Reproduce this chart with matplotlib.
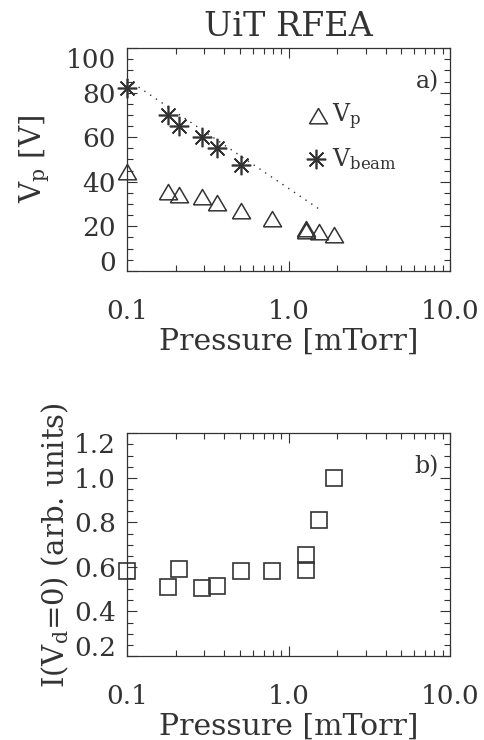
import matplotlib
matplotlib.use('Agg')
import matplotlib.pyplot as plt
from matplotlib.ticker import FixedLocator, MultipleLocator, NullFormatter

plt.rcParams['font.family'] = 'DejaVu Serif'
plt.rcParams['mathtext.fontset'] = 'dejavuserif'
plt.rcParams['axes.linewidth'] = 0.9

ink = '#333333'

# panel a) plasma potential and beam energy
p_vp = [0.1, 0.18, 0.21, 0.29, 0.36, 0.51, 0.79, 1.28, 1.28, 1.55, 1.92]
vp = [44, 35, 33.5, 32.5, 30, 26.5, 22.8, 18.3, 17.5, 16.8, 15.7]

p_beam = [0.1, 0.18, 0.21, 0.29, 0.36, 0.51]
vbeam = [82, 70, 65, 60, 55, 47.5]

fit_p = [0.1, 1.6]
fit_v = [86, 27]

# panel b) current at zero discriminator voltage
p_cur = [0.1, 0.18, 0.21, 0.29, 0.36, 0.51, 0.79, 1.28, 1.28, 1.55, 1.92]
cur = [0.58, 0.51, 0.59, 0.505, 0.515, 0.58, 0.58, 0.585, 0.655, 0.81, 1.0]

xticks = [0.1, 1.0, 10.0]
xticklabels = ['0.1', '1.0', '10.0']
yticks_a = [0, 20, 40, 60, 80, 100]
yticks_b = [0.2, 0.4, 0.6, 0.8, 1.0, 1.2]

tri = [(-1, -0.7), (1, -0.7), (0, 1.0), (-1, -0.7)]

fig = plt.figure(figsize=(4.85, 7.40), dpi=100)
ax1 = fig.add_axes([0.262, 0.634, 0.666, 0.301])
ax2 = fig.add_axes([0.262, 0.1135, 0.666, 0.301])

for ax in (ax1, ax2):
    ax.set_xscale('log')
    ax.set_xlim(0.1, 10.0)
    ax.xaxis.set_major_locator(FixedLocator(xticks))
    ax.set_xticklabels(xticklabels)
    ax.xaxis.set_minor_formatter(NullFormatter())
    ax.tick_params(which='both', direction='in', top=True, right=True,
                   colors=ink, labelcolor=ink, labelsize=19, width=0.8)
    ax.tick_params(which='major', length=7)
    ax.tick_params(which='minor', length=4)
    ax.tick_params(axis='x', pad=20)
    ax.tick_params(axis='y', pad=8)
    for s in ax.spines.values():
        s.set_color(ink)
    ax.set_xlabel('Pressure [mTorr]', fontsize=21.5, color=ink, labelpad=3)

ax1.set_ylim(0, 100)
ax1.set_yticks(yticks_a)
ax1.set_yticklabels([str(v) for v in yticks_a])
ax1.yaxis.set_minor_locator(MultipleLocator(5))
ax1.plot(fit_p, fit_v, linestyle=(0, (1, 4)), color=ink, lw=1.0)
ax1.plot(p_vp, vp, linestyle='none', marker=tri, ms=13, mfc='none',
         mec=ink, mew=1.1, clip_on=False)
ax1.plot(p_beam, vbeam, linestyle='none', marker=(8, 2, 0), ms=14,
         mec=ink, mew=1.2, clip_on=False)
ax1.plot([1.52], [69], linestyle='none', marker=tri, ms=13, mfc='none',
         mec=ink, mew=1.1)
ax1.plot([1.48], [50], linestyle='none', marker=(8, 2, 0), ms=14,
         mec=ink, mew=1.2)
ax1.text(1.85, 69, r'V$_\mathrm{p}$', fontsize=17, color=ink, va='center')
ax1.text(1.85, 50, r'V$_\mathrm{beam}$', fontsize=17, color=ink, va='center')
ax1.text(0.965, 0.85, 'a)', transform=ax1.transAxes, fontsize=17,
         color=ink, ha='right', va='center')
ax1.set_ylabel(r'V$_\mathrm{p}$ [V]', fontsize=21, color=ink, labelpad=10)
ax1.set_title('UiT RFEA', fontsize=24, color=ink, pad=9)

ax2.set_ylim(0.2, 1.2)
ax2.set_yticks(yticks_b)
ax2.set_yticklabels(['%.1f' % v for v in yticks_b])
ax2.yaxis.set_minor_locator(MultipleLocator(0.05))
ax2.plot(p_cur, cur, linestyle='none', marker='s', ms=11, mfc='none',
         mec=ink, mew=1.2, clip_on=False)
ax2.text(0.965, 0.85, 'b)', transform=ax2.transAxes, fontsize=17,
         color=ink, ha='right', va='center')
ax2.set_ylabel(r'I(V$_\mathrm{d}$=0) (arb. units)', fontsize=21, color=ink,
               labelpad=2)

# end labels sit inside the axis range, as in the original
for ax in (ax1, ax2):
    labs = ax.get_yticklabels()
    labs[0].set_va('baseline')
    labs[-1].set_va('top')

fig.savefig('out.png', dpi=100)
